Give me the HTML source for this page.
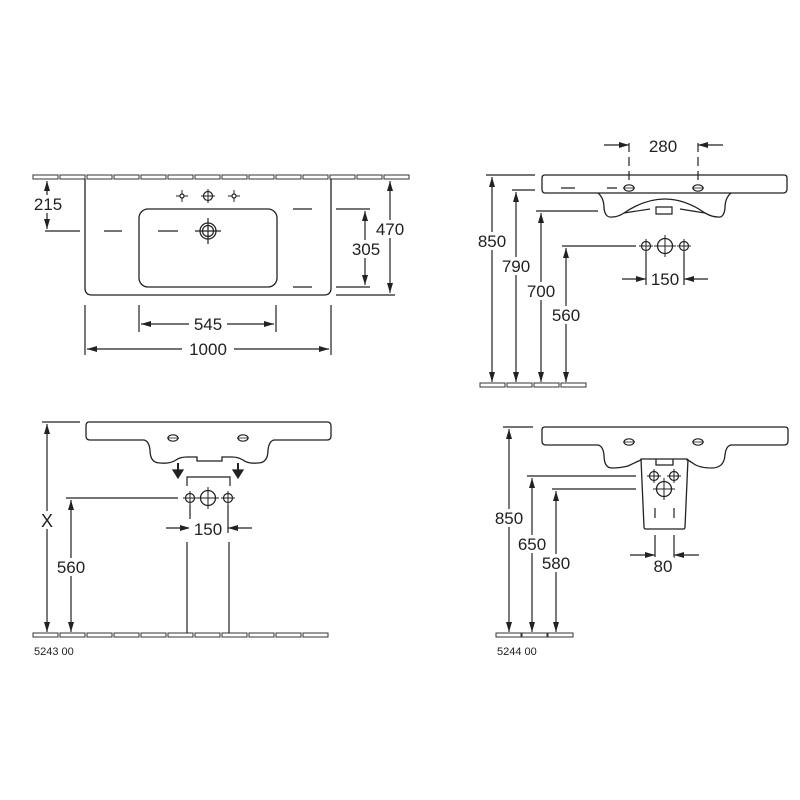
<!DOCTYPE html>
<html><head><meta charset="utf-8"><style>
html,body{margin:0;padding:0;background:#fff}
svg{display:block}
text{font-family:"Liberation Sans",sans-serif;font-size:17px;fill:#222}
</style></head><body>
<svg width="800" height="800" viewBox="0 0 800 800" xmlns="http://www.w3.org/2000/svg">
<defs>
<marker id="a" viewBox="0 0 10 6" refX="10" refY="3" markerWidth="10" markerHeight="6" orient="auto-start-reverse" markerUnits="userSpaceOnUse"><path d="M0,0L10,3L0,6z" fill="#222"/></marker>
<g id="tile"><rect x="0" y="0" width="25" height="4" fill="#fff" stroke="#333" stroke-width="1"/></g>
<g id="ft"><circle r="4.5" fill="none" stroke="#222" stroke-width="1.2"/><path d="M-7,0H7M0,-7V7" stroke="#222" stroke-width="1"/></g>
<g id="fb"><circle r="7.5" fill="none" stroke="#222" stroke-width="1.3"/><path d="M-11,0H11M0,-11V11" stroke="#222" stroke-width="1"/></g>
<g id="ov"><ellipse rx="5" ry="3.2" fill="none" stroke="#222" stroke-width="1.2"/><path d="M-6,0H6" stroke="#222" stroke-width="0.8"/></g>
</defs>
<g fill="none" stroke="#222" stroke-width="1.2">
<!-- TOP LEFT -->
<g>
<use href="#tile" x="33" y="175"/><use href="#tile" x="60" y="175"/><use href="#tile" x="87" y="175"/><use href="#tile" x="114" y="175"/><use href="#tile" x="141" y="175"/><use href="#tile" x="168" y="175"/><use href="#tile" x="195" y="175"/><use href="#tile" x="222" y="175"/><use href="#tile" x="249" y="175"/><use href="#tile" x="276" y="175"/><use href="#tile" x="303" y="175"/><use href="#tile" x="330" y="175"/><use href="#tile" x="357" y="175"/><use href="#tile" x="384" y="175"/>
</g>
<path d="M85,179V288Q85,295 92,295H324Q331,295 331,288V179" stroke-width="1.3"/>
<rect x="139" y="209" width="138" height="78" rx="9" stroke-width="1.3"/>
<circle cx="208" cy="231" r="8" stroke-width="1.3"/><circle cx="208" cy="231" r="5.5"/>
<path d="M195,231H221M208,218V244"/>
<use href="#ft" x="208" y="196"/>
<g transform="translate(182,196)"><path d="M-6,0H6M0,-6V6" stroke-width="1"/><circle r="2" fill="#fff"/></g>
<g transform="translate(234,196)"><path d="M-6,0H6M0,-6V6" stroke-width="1"/><circle r="2" fill="#fff"/></g>
<path d="M45,231H80M104,231H122M158,231H178M293,209H312M336,209H370M293,287H312M336,287H370M336,295H395"/>
<line x1="47" y1="181" x2="47" y2="229" marker-start="url(#a)" marker-end="url(#a)"/>
<line x1="365" y1="211" x2="365" y2="285" marker-start="url(#a)" marker-end="url(#a)"/>
<line x1="390" y1="181" x2="390" y2="293" marker-start="url(#a)" marker-end="url(#a)"/>
<path d="M139,305V332M276,305V332M85,305V355M331,305V355"/>
<line x1="141" y1="324" x2="274" y2="324" marker-start="url(#a)" marker-end="url(#a)"/>
<line x1="87" y1="349" x2="329" y2="349" marker-start="url(#a)" marker-end="url(#a)"/>

<!-- TOP RIGHT -->
<use href="#tile" x="480" y="383"/><use href="#tile" x="507" y="383"/><use href="#tile" x="534" y="383"/><use href="#tile" x="561" y="383"/>
<path d="M545,175H784Q787,175 787,178V189Q787,193 783,193H545Q542,193 542,189V178Q542,175 545,175Z" stroke-width="1.3"/>
<path d="M598,193Q604,198 604,208Q605,218 612,217Q618,217 624,213Q665,185 705,213Q712,217 718,217Q724,218 725,208Q725,198 731,193" stroke-width="1.3"/>
<path d="M624,213L650,209M656,207H672V214H656Z M680,209L705,213"/>
<path d="M629,143V152M629,157V166M629,171V180M698,143V152M698,157V166M698,171V180"/>
<use href="#ov" x="629" y="188"/><use href="#ov" x="698" y="188"/>
<path d="M561,188H575M607,188H617"/>
<line x1="604" y1="145" x2="629" y2="145" marker-end="url(#a)"/>
<line x1="723" y1="145" x2="698" y2="145" marker-end="url(#a)"/>
<path d="M486,175H535M512,190H535M536,211H598M562,246H636"/>
<line x1="492" y1="177" x2="492" y2="382" marker-start="url(#a)" marker-end="url(#a)"/>
<line x1="516" y1="192" x2="516" y2="382" marker-start="url(#a)" marker-end="url(#a)"/>
<line x1="541" y1="213" x2="541" y2="382" marker-start="url(#a)" marker-end="url(#a)"/>
<line x1="566" y1="248" x2="566" y2="382" marker-start="url(#a)" marker-end="url(#a)"/>
<use href="#ft" x="646" y="246"/><use href="#fb" x="665" y="246"/><use href="#ft" x="684" y="246"/>
<path d="M646,252V285M684,252V285"/>
<line x1="622" y1="279" x2="646" y2="279" marker-end="url(#a)"/>
<line x1="708" y1="279" x2="684" y2="279" marker-end="url(#a)"/>

<!-- BOTTOM LEFT -->
<use href="#tile" x="33" y="633"/><use href="#tile" x="60" y="633"/><use href="#tile" x="87" y="633"/><use href="#tile" x="114" y="633"/><use href="#tile" x="141" y="633"/><use href="#tile" x="168" y="633"/><use href="#tile" x="195" y="633"/><use href="#tile" x="222" y="633"/><use href="#tile" x="249" y="633"/><use href="#tile" x="276" y="633"/><use href="#tile" x="303" y="633"/>
<path d="M89,422H327Q331,422 331,426V436Q331,440 327,440H274Q269,441 268,450Q268,463 258,463Q248,464 243,460Q238,457 232,457H222V461H197V457H187Q180,457 176,460Q170,464 160,463Q150,463 150,450Q149,441 144,440H90Q86,440 86,436V426Q86,422 89,422Z" stroke-width="1.3"/>
<use href="#ov" x="173" y="438"/><use href="#ov" x="243" y="438"/>
<path d="M178,463V472" stroke-width="2"/><path d="M173,470L178,478L183,470Z" fill="#222"/>
<path d="M238,463V472" stroke-width="2"/><path d="M233,470L238,478L243,470Z" fill="#222"/>
<path d="M187,486V477H230V486"/>
<use href="#ft" x="190" y="498"/><use href="#fb" x="208" y="498"/><use href="#ft" x="228" y="498"/>
<path d="M66,498H178M190,505V533M228,505V533M42,422H80"/>
<line x1="166" y1="528" x2="190" y2="528" marker-end="url(#a)"/>
<line x1="252" y1="528" x2="228" y2="528" marker-end="url(#a)"/>
<path d="M187,542V633M229,542V633"/>
<line x1="47" y1="424" x2="47" y2="632" marker-start="url(#a)" marker-end="url(#a)"/>
<line x1="71" y1="500" x2="71" y2="632" marker-start="url(#a)" marker-end="url(#a)"/>

<!-- BOTTOM RIGHT -->
<use href="#tile" x="496" y="633"/><use href="#tile" x="522" y="633"/><use href="#tile" x="548" y="633"/>
<path d="M545,427H785Q788,427 788,430V441Q788,445 784,445H731Q726,446 725,455Q724,468 712,468Q700,468 694,464Q690,461 687,460V459H641V460Q636,462 628,466Q620,468 612,468Q604,468 604,455Q603,446 598,445H546Q542,445 542,441V430Q542,427 545,427Z" stroke-width="1.3"/>
<path d="M641,459L644,527Q644,529 646,529H683Q685,529 685,527L688,459M656,459V465H673V459" stroke-width="1.3"/>
<use href="#ov" x="629" y="442"/><use href="#ov" x="698" y="442"/>
<use href="#ft" x="654" y="476"/><use href="#ft" x="674" y="476"/><use href="#fb" x="664" y="489"/>
<path d="M655,508V518M674,508V518M655,535V558M674,535V558"/>
<line x1="630" y1="555" x2="655" y2="555" marker-end="url(#a)"/>
<line x1="699" y1="555" x2="674" y2="555" marker-end="url(#a)"/>
<path d="M503,427H533M527,476H636M552,489H636"/>
<line x1="509" y1="429" x2="509" y2="632" marker-start="url(#a)" marker-end="url(#a)"/>
<line x1="532" y1="478" x2="532" y2="632" marker-start="url(#a)" marker-end="url(#a)"/>
<line x1="556" y1="491" x2="556" y2="632" marker-start="url(#a)" marker-end="url(#a)"/>
</g>

<g>
<rect x="31" y="195" width="34" height="18" fill="#fff"/>
<rect x="350" y="240" width="32" height="18" fill="#fff"/>
<rect x="374" y="220" width="32" height="18" fill="#fff"/>
<rect x="189" y="315" width="38" height="18" fill="#fff"/>
<rect x="182" y="340" width="52" height="18" fill="#fff"/>
<rect x="475" y="232" width="34" height="18" fill="#fff"/>
<rect x="499" y="257" width="34" height="18" fill="#fff"/>
<rect x="524" y="282" width="34" height="18" fill="#fff"/>
<rect x="549" y="306" width="34" height="18" fill="#fff"/>
<rect x="649" y="270" width="32" height="18" fill="#fff"/>
<rect x="189" y="519" width="38" height="18" fill="#fff"/>
<rect x="38" y="511" width="18" height="18" fill="#fff"/>
<rect x="54" y="558" width="34" height="18" fill="#fff"/>
<rect x="492" y="509" width="34" height="18" fill="#fff"/>
<rect x="515" y="535" width="34" height="18" fill="#fff"/>
<rect x="539" y="554" width="34" height="18" fill="#fff"/>
<rect x="652" y="557" width="22" height="18" fill="#fff"/>
</g>
<g text-anchor="middle">
<text x="48" y="210">215</text>
<text x="366" y="255">305</text>
<text x="390" y="235">470</text>
<text x="208" y="330">545</text>
<text x="208" y="355">1000</text>
<text x="663" y="152">280</text>
<text x="492" y="247">850</text>
<text x="516" y="272">790</text>
<text x="541" y="297">700</text>
<text x="566" y="321">560</text>
<text x="665" y="285">150</text>
<text x="47" y="527" style="font-size:18px">X</text>
<text x="71" y="573">560</text>
<text x="208" y="535">150</text>
<text x="509" y="524">850</text>
<text x="532" y="550">650</text>
<text x="556" y="569">580</text>
<text x="663" y="572">80</text>
</g>
<text x="34" y="655" style="font-size:11px">5243 00</text>
<text x="497" y="655" style="font-size:11px">5244 00</text>
</svg>
</body></html>
